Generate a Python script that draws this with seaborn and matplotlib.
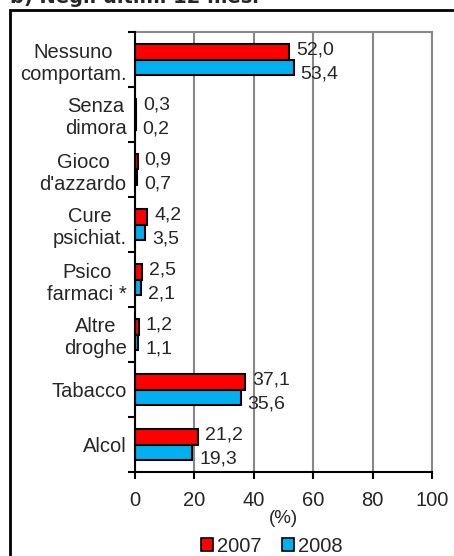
import numpy as np
import pandas as pd
import matplotlib
matplotlib.use("Agg")
import matplotlib.pyplot as plt
from matplotlib.patches import Patch, Rectangle
import seaborn as sns

# ---- dati ----
categorie = ["Nessuno\ncomportam.", "Senza\ndimora", "Gioco\nd'azzardo", "Cure\npsichiat.",
             "Psico\nfarmaci *", "Altre\ndroghe", "Tabacco", "Alcol"]
val_2007 = [52.0, 0.3, 0.9, 4.2, 2.5, 1.2, 37.1, 21.2]
val_2008 = [53.4, 0.2, 0.7, 3.5, 2.1, 1.1, 35.6, 19.3]
anni = ["2007", "2008"]
colori = {"2007": "#FF0000", "2008": "#00B0F0"}
x_ticks = [0, 20, 40, 60, 80, 100]

df = pd.DataFrame({
    "cat": categorie * 2,
    "anno": [anni[0]] * len(categorie) + [anni[1]] * len(categorie),
    "val": val_2007 + val_2008,
})

sns.set_style("white")
plt.rcParams["font.family"] = ["Liberation Sans", "DejaVu Sans"]

W, H = 454, 556
fig = plt.figure(figsize=(W / 100, H / 100), dpi=100)
ax = fig.add_axes([135 / W, 1 - 472 / H, (432 - 135) / W, (472 - 32) / H])

sns.barplot(data=df, y="cat", x="val", hue="anno", order=categorie, hue_order=anni,
            palette=colori, saturation=1, orient="h", width=0.56, edgecolor="black",
            linewidth=1.5, legend=False, ax=ax)

# etichette valori
for cont, dy in zip(ax.containers, [1, -5]):
    for p in cont:
        v = p.get_width()
        ax.annotate(f"{v:.1f}".replace(".", ","),
                    (v, p.get_y() + p.get_height() / 2),
                    xytext=(5, dy), textcoords="offset points",
                    ha="left", va="center", fontsize=14)

ax.set_xlim(0, 100)
ax.set_ylim(len(categorie) - 0.5, -0.5)
ax.set_xticks(x_ticks)
ax.set_xticklabels([str(t) for t in x_ticks], fontsize=14.5)
ax.set_yticks(range(len(categorie)))
ax.set_yticklabels(categorie, fontsize=14.5, multialignment="center")
ax.set_yticks(np.arange(-0.5, len(categorie), 1), minor=True)
ax.tick_params(axis="y", which="major", length=0, pad=6)
ax.tick_params(axis="y", which="minor", length=5, width=1.5, color="black", direction="out", left=True)
ax.tick_params(axis="x", length=5, width=1.5, color="black", direction="out", bottom=True, pad=9)
ax.set_ylabel("")
ax.set_xlabel("(%)", fontsize=13.5, labelpad=0)

ax.grid(axis="x", color="#888888", linewidth=1.5)
ax.set_axisbelow(True)
for s in ["left", "bottom"]:
    ax.spines[s].set_color("black")
    ax.spines[s].set_linewidth(1.5)
for s in ["top", "right"]:
    ax.spines[s].set_color("#888888")
    ax.spines[s].set_linewidth(1.5)
ax.spines["left"].set_zorder(5)

# legenda
handles = [Patch(facecolor=colori[a], edgecolor="black", linewidth=1.2, label=a) for a in anni]
fig.legend(handles=handles, loc="center", bbox_to_anchor=(272 / W, 1 - 546 / H), ncol=2,
           frameon=False, fontsize=14.5, handlelength=0.6, handleheight=0.6,
           handletextpad=0.2, columnspacing=1.0)

# cornice esterna e titolo tagliato
fig.patches.append(Rectangle((10 / W, -0.05), 1.1, 1 - 10 / H + 0.05, transform=fig.transFigure,
                             fill=False, edgecolor="black", linewidth=2))
fig.text(10 / W, 1 - 3 / H, "b) Negli ultimi 12 mesi", fontsize=14, fontweight="bold",
         family=["DejaVu Sans"], va="baseline", ha="left")

fig.savefig("out.png", dpi=100)
